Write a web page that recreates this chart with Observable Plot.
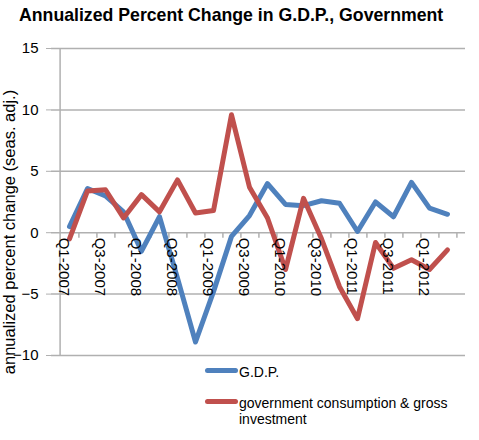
<!DOCTYPE html>
<html><head><meta charset="utf-8">
<script src="https://cdn.jsdelivr.net/npm/d3@7"></script>
<script src="https://cdn.jsdelivr.net/npm/@observablehq/plot@0.6"></script>
<style>
body{margin:0;background:#fff;font-family:"Liberation Sans",Arial,sans-serif;}
#wrap{position:relative;width:479px;height:440px;overflow:hidden;}
#title{position:absolute;left:19px;top:5px;font-weight:bold;font-size:17.7px;white-space:nowrap;color:#000;}
#chart{position:absolute;left:0;top:34px;}
.leg{position:absolute;font-size:14px;line-height:16px;color:#000;width:240px;}
.sw{position:absolute;height:5px;border-radius:3px;width:33px;}
</style></head><body>
<div id="wrap">
<div id="title">Annualized Percent Change in G.D.P., Government</div>
<div id="chart"></div>
<div id="legend"></div>
</div>
<script>
const quarters = ["Q1-2007","Q2-2007","Q3-2007","Q4-2007","Q1-2008","Q2-2008","Q3-2008","Q4-2008",
  "Q1-2009","Q2-2009","Q3-2009","Q4-2009","Q1-2010","Q2-2010","Q3-2010","Q4-2010",
  "Q1-2011","Q2-2011","Q3-2011","Q4-2011","Q1-2012","Q2-2012"];
const gdp = [0.5, 3.6, 3.0, 1.7, -1.5, 1.3, -3.7, -8.9, -4.8, -0.3, 1.4, 4.0, 2.3, 2.2, 2.6, 2.4, 0.1, 2.5, 1.3, 4.1, 2.0, 1.5];
const gov = [-0.5, 3.4, 3.5, 1.2, 3.1, 1.7, 4.3, 1.6, 1.8, 9.6, 3.7, 1.2, -3.0, 2.8, -0.5, -4.4, -7.0, -0.8, -2.9, -2.2, -3.0, -1.4];
const seriesNames = ["G.D.P.", "government consumption & gross investment"];
const seriesColors = ["#4f81bd", "#c0504d"];
const yTicks = [-10, -5, 0, 5, 10, 15];
const xLabels = quarters.filter((d, i) => i % 2 === 0);
const yLabel = "annualized percent change (seas. adj.)";

const data = [
  ...quarters.map((q, i) => ({q, v: gdp[i], s: seriesNames[0]})),
  ...quarters.map((q, i) => ({q, v: gov[i], s: seriesNames[1]}))
];

const W = 479, H = 330, mL = 51, mR = 14, mT = 14, mB = 9;
const half = (W - mL - mR) / quarters.length / 2;
const grid = "#b0b0b0";

const chart = Plot.plot({
  width: W, height: H, marginTop: mT, marginBottom: mB, marginLeft: mL, marginRight: mR,
  style: {fontFamily: "'Liberation Sans', Arial, sans-serif", background: "white", color: "#000", overflow: "visible"},
  x: {type: "point", domain: quarters, padding: 0.5, axis: null},
  y: {domain: [-10, 15], axis: null},
  color: {domain: seriesNames, range: seriesColors},
  marks: [
    Plot.ruleY(yTicks, {stroke: grid, strokeWidth: 1.5}),
    Plot.axisY({ticks: yTicks, tickSize: 5, tickPadding: 8, stroke: grid, fill: "#000", fontSize: 15, label: null}),
    Plot.ruleX([quarters[0]], {dx: -half, y1: -10, y2: 15, stroke: grid, strokeWidth: 1.5}),
    Plot.ruleX(quarters, {dx: half, y1: 0, y2: -0.45, stroke: grid, strokeWidth: 1.5}),
    Plot.line(data, {x: "q", y: "v", z: "s", stroke: "s", strokeWidth: 5, strokeLinejoin: "round", strokeLinecap: "round"}),
    Plot.text(xLabels, {x: d => d, y: 0, text: d => d, rotate: 90, textAnchor: "start", lineAnchor: "middle", dx: -6, dy: 5, fontSize: 15, fill: "#000"}),
    Plot.text([yLabel], {frameAnchor: "left", rotate: -90, textAnchor: "middle", lineAnchor: "middle", dx: -42, dy: 30, fontSize: 16.5, fill: "#000"})
  ]
});
document.getElementById("chart").appendChild(chart);

const legend = document.getElementById("legend");
const legPos = [{sw: 368, tx: 364}, {sw: 399, tx: 395}];
seriesNames.forEach((name, i) => {
  const sw = document.createElement("div");
  sw.className = "sw";
  sw.style.left = "205px"; sw.style.top = legPos[i].sw + "px"; sw.style.background = seriesColors[i];
  legend.appendChild(sw);
  const t = document.createElement("div");
  t.className = "leg";
  t.style.left = "239px"; t.style.top = legPos[i].tx + "px";
  t.textContent = name;
  legend.appendChild(t);
});
</script>
</body></html>
